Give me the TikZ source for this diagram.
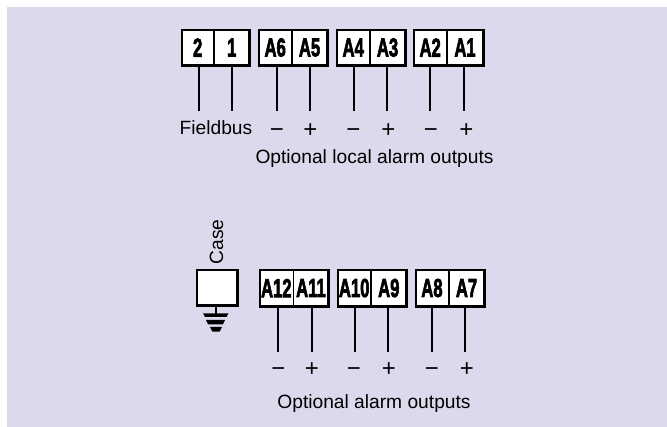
\documentclass[tikz,border=0pt]{standalone}
\usepackage{fontspec}
\setmainfont{Liberation Sans}
\newfontfamily\termfont[FakeBold=3.2]{Liberation Sans Bold}
\definecolor{panel}{HTML}{DCD9EC}
\tikzset{
  x=1pt,y=-1pt,
  termlabel/.style={inner sep=0pt,outer sep=0pt,font=\termfont\fontsize{26}{26}\selectfont},
  lab/.style={inner sep=0pt,anchor=base,font=\fontsize{19.2}{20}\selectfont},
  sign/.style={inner sep=0pt,anchor=base,font=\fontsize{24}{24}\selectfont},
  wire/.style={draw=black,line width=1.2pt},
  frame/.style={fill=black,draw=none}
}
% name-left, name-right, x0, xm, x1, y0, y1, text-left, text-right
\newcommand{\termpair}[9]{%
  \fill[frame] (#3,#6) rectangle (#5,#7);
  \path[fill=white] (#3+2,#6+2) rectangle (#4-0.6,#7-3.2);
  \path[fill=white] (#4+0.6,#6+2) rectangle (#5-3,#7-3.2);
  \node[termlabel,minimum width=#4-#3-1,minimum height=#7-#6] (#1) at ({(#3+#4)/2+0.2},{(#6+#7)/2-0.7}) {\scalebox{0.64}[1]{#8}};
  \node[termlabel,minimum width=#5-#4-1,minimum height=#7-#6] (#2) at ({(#4+#5)/2-0.7},{(#6+#7)/2-0.7}) {\scalebox{0.64}[1]{#9}};
}
\begin{document}
\begin{tikzpicture}
\useasboundingbox (0,0) rectangle (667,427);
\fill[panel] (7,7) rectangle (667,427);
% top row
\termpair{t2}{t1}{181}{214}{251}{29}{67.5}{2}{1}
\termpair{a6}{a5}{258}{292}{328.5}{29}{67.5}{A6}{A5}
\termpair{a4}{a3}{336}{370}{406.5}{29}{67.5}{A4}{A3}
\termpair{a2}{a1}{413}{447}{484.5}{29}{67.5}{A2}{A1}
% bottom row
\termpair{a12}{a11}{259}{293.3}{330}{269}{308.5}{A12}{A11}
\termpair{a10}{a9}{337}{371}{408}{269}{308.5}{A10}{A9}
\termpair{a8}{a7}{414.5}{449}{485.5}{269}{308.5}{A8}{A7}
% wires
\foreach \n/\x/\e in {t2/199/111,t1/232/111,a6/277/111,a5/310/111,a4/354/111,a3/387/111,a2/430/111,a1/464/111,
  a12/278/352,a11/312/352,a10/355/352,a9/388/352,a8/432/352,a7/465/352}{
  \coordinate (\n e) at (\x,\e);
  \draw[wire] (\n.south -| \n e) -- (\n e);
}
% signs
\node[sign] (s6) at (277,138) {−};
\node[sign] (s5) at (310.5,138) {+};
\node[sign] (s4) at (353.5,138) {−};
\node[sign] (s3) at (388.5,138) {+};
\node[sign] (s2) at (431,138) {−};
\node[sign] (s1) at (466.5,138) {+};
\node[sign] (s12) at (278.5,377) {−};
\node[sign] (s11) at (312,377) {+};
\node[sign] (s10) at (354,377) {−};
\node[sign] (s9) at (389,377) {+};
\node[sign] (s8) at (432,377) {−};
\node[sign] (s7) at (467,377) {+};
% labels
\node[lab] (fb) at (216,134.5) {Fieldbus};
\node[lab] (ol) at (374.5,163.5) {Optional local alarm outputs};
\node[lab] (oa) at (374,408.5) {Optional alarm outputs};
\node[lab,rotate=90] (cs) at (223,242) {Case};
% case box
\fill[frame] (196,269) rectangle (238.5,307.5);
\node[fill=white,inner sep=0pt,outer sep=0pt,minimum width=37.5,minimum height=33.5,anchor=north west] (casebox) at (198,271) {};
\coordinate (gnd) at (216,315);
\draw[wire] (216,307) -- (gnd);
\fill (203,313.3) -- (228.5,313.3) -- (226.5,317) -- (205,317) -- cycle;
\fill (206,320) -- (225,320) -- (223,324.3) -- (208,324.3) -- cycle;
\fill (210,327) -- (222,327) -- (219.5,331.7) -- (212.5,331.7) -- cycle;
\end{tikzpicture}
\end{document}
